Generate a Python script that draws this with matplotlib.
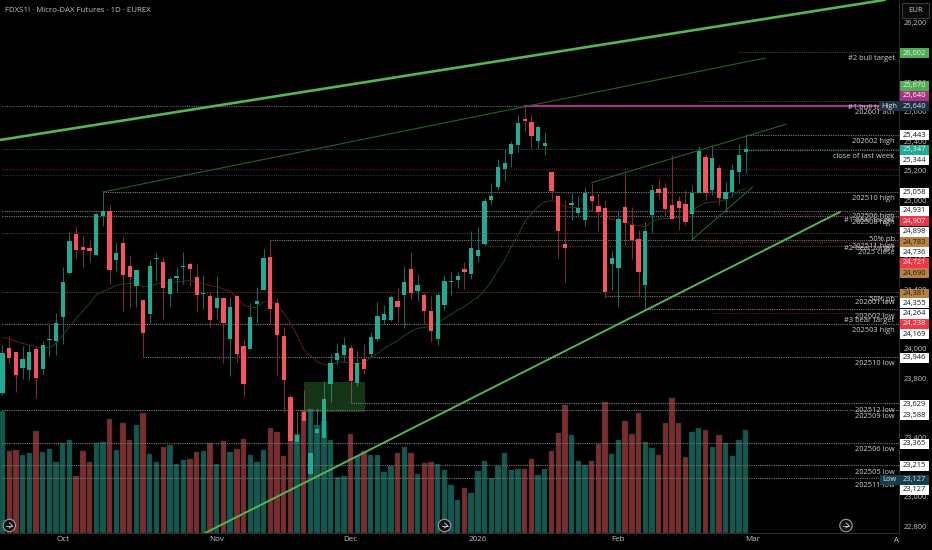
# FDXS1! daily chart with levels
import matplotlib
matplotlib.use('Agg')
import matplotlib.pyplot as plt
from matplotlib.patches import Rectangle, Circle
from matplotlib.lines import Line2D
from matplotlib.transforms import IdentityTransform

plt.rcParams['font.family'] = ['Open Sans', 'DejaVu Sans']

opens = [23702, 24006, 23974, 23868, 23853, 23999, 23864, 24058, 24049, 24215,
         24508, 24774, 24684, 24681, 24634, 24898, 24927, 24598, 24713, 24560,
         24425, 24326, 24235, 24605, 24582, 24366, 24479, 24548, 24571, 24483,
         24371, 24353, 24271, 24339, 24064, 24353, 24017, 23995, 24301, 24398,
         24616, 24308, 24085, 23672, 23368, 23571, 23152, 23429, 23395, 23763,
         23925, 23958, 24004, 23769, 23929, 23965, 24067, 24190, 24190, 24321,
         24364, 24535, 24391, 24362, 24251, 24064, 24292, 24447, 24463, 24535,
         24503, 24625, 24704, 25006, 25089, 25213, 25314, 25375, 25551, 25533,
         25402, 25368, 25195, 25030, 24706, 24972, 24918, 24868, 25028, 24965,
         24947, 24569, 24546, 24958, 24832, 24740, 24431, 24900, 25078, 25084,
         24967, 24999, 24979, 24907, 25051, 25292, 25071, 25220, 25008, 25057,
         25195, 25325]
highs = [24022, 24085, 23979, 24017, 24024, 24017, 24051, 24166, 24242, 24551,
         24787, 24825, 24762, 24735, 24913, 25058, 24970, 24722, 24751, 24630,
         24530, 24326, 24598, 24643, 24621, 24485, 24551, 24650, 24582, 24569,
         24497, 24384, 24490, 24339, 24350, 24353, 24064, 24305, 24418, 24672,
         24736, 24339, 24148, 23686, 23578, 23720, 23585, 23598, 23781, 23963,
         24035, 24078, 24022, 23985, 24031, 24109, 24314, 24296, 24362, 24407,
         24560, 24650, 24503, 24373, 24355, 24380, 24499, 24515, 24517, 24582,
         24796, 24821, 25017, 25116, 25278, 25346, 25404, 25580, 25640, 25584,
         25512, 25465, 25199, 25030, 25003, 25048, 25030, 25089, 25121, 25053,
         25003, 24666, 24936, 25184, 24958, 24801, 24855, 25111, 25150, 25116,
         25305, 25030, 25071, 25103, 25368, 25314, 25375, 25238, 25127, 25247,
         25382, 25443]
lows = [23686, 23893, 23708, 23796, 23787, 23668, 23819, 23949, 23956, 24028,
        24503, 24609, 24542, 24585, 24632, 24828, 24436, 24524, 24253, 24276,
        24283, 23946, 24170, 24458, 24199, 24290, 24384, 24434, 24425, 24249,
        24267, 24148, 24199, 23900, 23817, 23911, 23675, 23995, 24170, 24395,
        24159, 23821, 23573, 23294, 23281, 23135, 23127, 23247, 23328, 23641,
        23889, 23911, 23629, 23747, 23828, 23940, 24053, 24166, 24186, 24177,
        24139, 24328, 24323, 24166, 24046, 24024, 24260, 24362, 24409, 24402,
        24472, 24585, 24699, 24967, 25071, 25132, 25229, 25325, 25461, 25346,
        25346, 25307, 25008, 24614, 24452, 24868, 24886, 24828, 24936, 24796,
        24344, 24395, 24290, 24699, 24603, 24350, 24260, 24783, 25003, 24895,
        24877, 24801, 24837, 24736, 25051, 25003, 25037, 24970, 24918, 25021,
        25116, 25184]
closes = [23967, 23938, 23823, 23927, 23974, 23803, 24022, 24064, 24170, 24447,
          24726, 24668, 24668, 24661, 24907, 24927, 24533, 24645, 24497, 24481,
          24530, 24103, 24558, 24612, 24407, 24470, 24490, 24558, 24537, 24364,
          24377, 24190, 24344, 24172, 24278, 23963, 23763, 24213, 24323, 24609,
          24269, 24091, 23790, 23375, 23416, 23510, 23294, 23458, 23661, 23900,
          23970, 24026, 23783, 23900, 23862, 24078, 24217, 24233, 24348, 24281,
          24447, 24373, 24429, 24251, 24121, 24362, 24456, 24456, 24488, 24519,
          24681, 24666, 24997, 25030, 25226, 25256, 25382, 25524, 25537, 25438,
          25497, 25391, 25062, 24794, 24679, 24981, 24952, 25051, 24999, 24925,
          24382, 24609, 24873, 24848, 24731, 24517, 24794, 25071, 25051, 24943,
          24877, 24949, 24857, 25051, 25334, 25051, 25287, 25017, 25055, 25206,
          25307, 25347]
volumes = [365, 247, 249, 234, 239, 306, 243, 252, 214, 271, 279, 172, 245, 214,
           269, 273, 342, 248, 330, 279, 324, 360, 237, 214, 259, 264, 208, 219,
           223, 243, 245, 270, 207, 276, 243, 252, 282, 234, 214, 250, 315, 304,
           232, 307, 297, 370, 372, 325, 337, 280, 168, 170, 297, 230, 247, 234,
           234, 182, 200, 241, 257, 239, 178, 210, 214, 207, 190, 145, 100, 136,
           120, 187, 216, 166, 200, 240, 188, 193, 193, 221, 175, 193, 247, 299,
           383, 295, 216, 203, 216, 268, 393, 238, 279, 335, 297, 361, 273, 255,
           234, 331, 405, 331, 227, 304, 315, 308, 259, 294, 271, 232, 279, 308]
sma = [24073, 24067, 24049, 24035, 24024, 24013, 24004, 24006, 24035, 24091,
       24148, 24204, 24253, 24305, 24362, 24386, 24404, 24427, 24436, 24440,
       24443, 24418, 24422, 24436, 24443, 24447, 24449, 24454, 24461, 24449,
       24440, 24425, 24418, 24400, 24386, 24350, 24292, 24283, 24283, 24314,
       24317, 24301, 24238, 24175, 24091, 23995, 23949, 23911, 23891, 23893,
       23907, 23909, 23900, 23898, 23904, 23938, 23967, 24001, 24028, 24053,
       24085, 24114, 24136, 24143, 24148, 24175, 24202, 24231, 24260, 24283,
       24317, 24346, 24395, 24452, 24530, 24598, 24688, 24767, 24857, 24913,
       24958, 24992, 24999, 24990, 24958, 24954, 24954, 24943, 24931, 24913,
       24891, 24873, 24864, 24850, 24839, 24828, 24823, 24857, 24873, 24880,
       24880, 24886, 24902, 24936, 24963, 24985, 24990, 24992, 25008, 25030,
       25066, 25082]

# price, first bar, colour
level_prices = [26002, 25670, 25640, 25347, 25344, 25443, 25213, 25170, 25058,
                24931, 24898, 24907, 24783, 24736, 24721, 24690, 24381, 24355,
                24264, 24238, 24169, 23946, 23629, 23588, 23365, 23215, 23127]
level_starts = [110, 104, 0, 0, 111, 111, 0, 0, 15, 0, 0, 115, 0, 40, 105, 72, 0,
                90, 96, 106, 0, 21, 52, 0, 0, 0, 0]
level_colors = ['#1f5a2c', '#1f5a2c', '#666666', '#14504a', '#777777', '#777777',
                '#5c1e1e', '#17394a', '#777777', '#777777', '#777777', '#5c1e1e',
                '#5e3b16', '#777777', '#5c1e1e', '#5e3b16', '#5e3b16', '#777777',
                '#777777', '#5c1e1e', '#777777', '#777777', '#777777', '#777777',
                '#777777', '#777777', '#777777']

# trend lines as (bar, price) pairs
bright_lines = [((-0.4, 25409), (131.7, 26355), 1.9), ((30.25, 22753), (125.1, 24923), 1.4)]
thin_lines = [((15, 25058), (113.9, 25963)), ((88, 25121), (117, 25515)),
              ((103, 24736), (112, 25091))]
ath_bar = 78
ath_price = 25640
zone_bars = (45, 54.1)
zone_prices = (23569, 23772)

month_ticks = [9, 32, 52, 71, 92, 112]
month_labels = ['Oct', 'Nov', 'Dec', '2026', 'Feb', 'Mar']
price_ticks = list(range(22800, 26400, 200))

level_text = ['#2 bull target', '#1 bull target', '202601 ath', '202602 high',
              'close of last week', '202510 high', '202506 high', '#1 bear target',
              '202508 high', '50% pb', '202511 high', '#2 bear target', '2025 close',
              '50% pb', '202601 low', '202602 low', '#3 bear target', '202503 high',
              '202510 low', '202512 low', '202509 low', '202506 low', '202505 low',
              '202511 low']
level_text_rows = [59, 108, 112.7, 141.3, 156.7, 198, 216.7, 220.7, 222.7, 240, 246,
                   248.7, 253, 299.3, 302.7, 316.7, 320.7, 330.7, 363.7, 410.7, 417,
                   449.7, 472, 485.3]

WHITE = ('#ffffff', '#131722')
GREEN = ('#4caf50', '#eeeeee')
RED = ('#f23645', '#ffffff')
ORANGE = ('#b9803f', '#1c1c1c')
badge_text = ['26,002', '25,670', '25,640', '25,443', '25,347', '25,344', '25,058',
              '24,931', '24,907', '24,898', '24,783', '24,736', '24,721', '24,690',
              '24,381', '24,355', '24,264', '24,238', '24,169', '23,946', '23,629',
              '23,588', '23,365', '23,215', '23,127']
badge_rows = [53.3, 86, 96, 135.3, 149.7, 160.3, 192.7, 211, 221.3, 231.7, 242.3,
              252.3, 262.7, 273.3, 293.7, 303.3, 313.7, 324, 334.3, 357.7, 404.7,
              415, 444, 466, 490]
badge_styles = [GREEN, GREEN, ('#a8327f', '#ffffff'), WHITE, ('#22ab94', '#eeeeee'), WHITE,
                WHITE, WHITE, RED, WHITE, ORANGE, WHITE, RED, ORANGE, ORANGE, WHITE,
                WHITE, RED, WHITE, WHITE, WHITE, WHITE, WHITE, WHITE, WHITE]

W, H = 932, 550
TEAL, SALMON = '#22ab94', '#f7525f'
TEAL_DIM, SALMON_DIM = '#17695f', '#7a2c30'
GREY = '#c2c5cc'

fig = plt.figure(figsize=(W / 100, H / 100), dpi=100, facecolor='black')
rect = [0, (H - 533) / H, 899 / W, 533 / H]
vol_ax = fig.add_axes(rect, zorder=1, facecolor='black')
ax = fig.add_axes(rect, zorder=2, facecolor='none')

bars = list(range(len(closes)))
vol_colors = ['#14584f' if c >= o else '#7f2a2c' for o, c in zip(opens, closes)]
vol_ax.bar(bars, volumes, width=0.8, color=vol_colors, edgecolor='#0e3f39', linewidth=0.3)
vol_ax.set_xlim(-0.373, 133.9)
vol_ax.set_ylim(0, 1600)
vol_ax.axis('off')

for i in bars:
    up = closes[i] >= opens[i]
    ax.plot([i, i], [lows[i], highs[i]], color=TEAL_DIM if up else SALMON_DIM, lw=0.75, zorder=3,
            solid_capstyle='butt')
    ax.bar(i, abs(closes[i] - opens[i]), bottom=min(opens[i], closes[i]), width=0.64,
           color=TEAL if up else SALMON, zorder=4)

for i in bars[1:]:
    ax.plot([i - 1, i], [sma[i - 1], sma[i]], lw=0.7, zorder=3.5,
            color='#1a4423' if sma[i] >= sma[i - 1] else '#5c1c1e')

for p, s, c in zip(level_prices, level_starts, level_colors):
    ax.plot([s, 134], [p, p], color=c, lw=0.8, ls=(0, (1, 1)), zorder=2)

ax.plot([ath_bar, 134], [ath_price, ath_price], color='#a8327f', lw=1.6, zorder=5)
for a, b, w in bright_lines:
    ax.plot([a[0], b[0]], [a[1], b[1]], color='#55b555', lw=w, zorder=5)
for a, b in thin_lines:
    ax.plot([a[0], b[0]], [a[1], b[1]], color='#23602f', lw=0.8, zorder=5)
ax.add_patch(Rectangle((zone_bars[0], zone_prices[0]), zone_bars[1] - zone_bars[0],
                       zone_prices[1] - zone_prices[0], color='#4caf50', alpha=0.3, lw=0, zorder=6))

ax.set_xlim(-0.373, 133.9)
ax.set_ylim(26355 - 6.757 * 533, 26355)
ax.yaxis.tick_right()
ax.set_yticks(price_ticks, [f'{t:,}' for t in price_ticks])
ax.set_xticks(month_ticks, month_labels)
ax.tick_params(length=0, colors=GREY, labelsize=5.4)
ax.tick_params(axis='y', pad=3.5)
ax.tick_params(axis='x', pad=2.5, labelsize=5.8)
for name, spine in ax.spines.items():
    spine.set_visible(name in ('right', 'bottom'))
    spine.set_color('#2a2c30')
    spine.set_linewidth(0.8)


def fy(row):
    return 1 - row / H


for txt, row in zip(level_text, level_text_rows):
    fig.text(894.5 / W, fy(row), txt, color='#d0d0d0', fontsize=5.4, ha='right', va='center', zorder=4)


def badge(x0, x1, row, fill):
    fig.add_artist(Rectangle((x0 / W, fy(row + 5)), (x1 - x0) / W, 10 / H, color=fill, lw=0,
                             transform=fig.transFigure, zorder=5))


for txt, row, (bg, fg) in zip(badge_text, badge_rows, badge_styles):
    badge(899.5, 929, row, bg)
    fig.text(914.2 / W, fy(row), txt, color=fg, fontsize=5.4, ha='center', va='center', zorder=6)

badge(879, 929, 106.3, '#1d3345')
fig.text(889 / W, fy(106.3), 'High', color='#dddddd', fontsize=5.4, ha='center', va='center', zorder=6)
fig.text(914.2 / W, fy(106.3), '25,640', color='#dddddd', fontsize=5.4, ha='center', va='center', zorder=6)
badge(880, 929, 479.7, '#123f4a')
fig.text(889.5 / W, fy(479.7), 'Low', color='#dddddd', fontsize=5.4, ha='center', va='center', zorder=6)
fig.text(914.2 / W, fy(479.7), '23,127', color='#dddddd', fontsize=5.4, ha='center', va='center', zorder=6)

fig.add_artist(Rectangle((901.7 / W, fy(17.7)), 27.3 / W, 15 / H, facecolor='#0a0a0a',
                         edgecolor='#3a3c40', lw=0.8, transform=fig.transFigure, zorder=5))
fig.text(915.3 / W, fy(10.3), 'EUR', color=GREY, fontsize=5.6, ha='center', va='center', zorder=6)

fig.text(5 / W, fy(10), 'FDXS1! · Micro-DAX Futures · 1D · EUREX', color=GREY, fontsize=5.7,
         ha='left', va='center', zorder=6)
fig.text(896 / W, fy(541), 'A', color=GREY, fontsize=5.6, ha='center', va='center', zorder=6)

# replay icons
for cx in (9.3, 444.5, 846):
    cy = H - 525.5
    fig.add_artist(Circle((cx, cy), 6.2, facecolor='#101014', edgecolor='#a59aa8', lw=0.8,
                          transform=IdentityTransform(), zorder=6))
    fig.add_artist(Line2D([cx - 3, cx + 3], [cy, cy], color='#d8d0d8', lw=0.6,
                          transform=IdentityTransform(), zorder=7))
    fig.add_artist(Line2D([cx, cx + 3, cx], [cy + 2.5, cy, cy - 2.5], color='#d8d0d8', lw=0.6,
                          transform=IdentityTransform(), zorder=7))

fig.savefig('out.png', dpi=100, facecolor='black')
